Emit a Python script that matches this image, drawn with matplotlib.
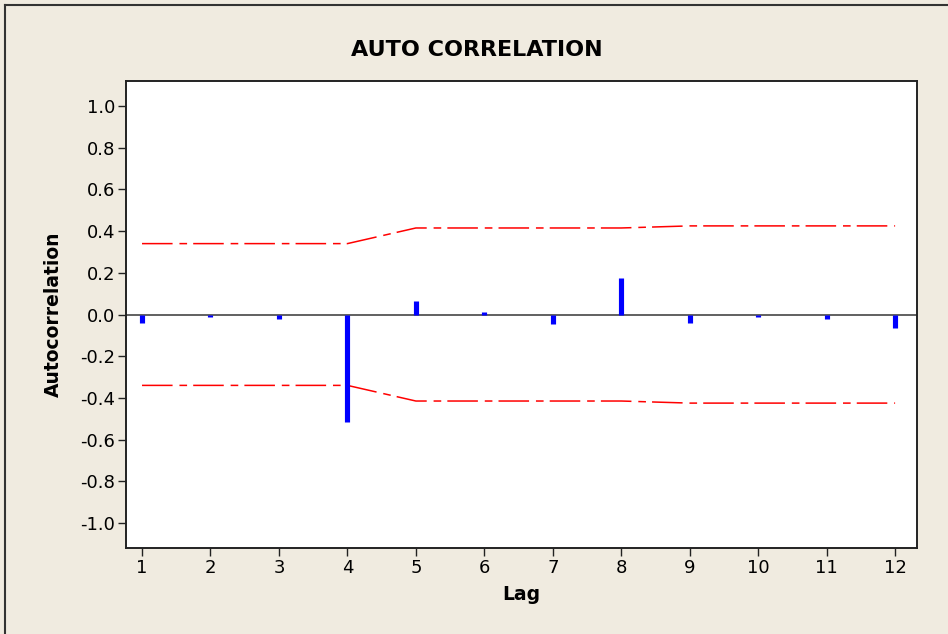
import matplotlib
matplotlib.use("Agg")
import matplotlib.pyplot as plt
from matplotlib.lines import Line2D

lags = [1, 2, 3, 4, 5, 6, 7, 8, 9, 10, 11, 12]
acf = [-0.04, -0.01, -0.02, -0.515, 0.065, 0.01, -0.045, 0.175, -0.04, -0.01, -0.02, -0.063]
upper = [0.34, 0.34, 0.34, 0.34, 0.415, 0.415, 0.415, 0.415, 0.425, 0.425, 0.425, 0.425]
lower = [-u for u in upper]
yticks = [1.0, 0.8, 0.6, 0.4, 0.2, 0.0, -0.2, -0.4, -0.6, -0.8, -1.0]

bg = "#f0ebe0"
fig = plt.figure(figsize=(9.48, 6.34), dpi=100, facecolor=bg)
ax = fig.add_axes([126/948, 1-548/634, (917-126)/948, (548-81)/634])
ax.set_facecolor("white")

ax.axhline(0, color="#606060", lw=1.4, zorder=1)
ax.vlines(lags, 0, acf, color="#0000ff", lw=3.7, zorder=3)
ax.plot(lags, upper, color="#ff0000", lw=1.1, dashes=(20, 4.5, 5, 4), zorder=2)
ax.plot(lags, lower, color="#ff0000", lw=1.1, dashes=(20, 4.5, 5, 4), zorder=2)

ax.set_xlim(0.766, 12.32)
ax.set_ylim(-1.12, 1.12)
ax.set_xticks(lags)
ax.set_xticklabels([str(l) for l in lags])
ax.set_yticks(yticks)
ax.set_yticklabels([f"{v:.1f}" for v in yticks])
ax.tick_params(direction="out", length=6, width=1, labelsize=13, pad=2, color="#222222")
for s in ax.spines.values():
    s.set_color("#222222")
    s.set_linewidth(1.4)

fig.text(477/948, 1-50/634, "AUTO CORRELATION", fontsize=16, fontweight="bold",
         ha="center", va="center")
ax.set_xlabel("Lag", fontsize=13.5, fontweight="bold", labelpad=6)
ax.set_ylabel("Autocorrelation", fontsize=13.5, fontweight="bold", labelpad=12)

# outer window frame
fig.add_artist(Line2D([5/948, 1], [1-5/634, 1-5/634], color="#333333", lw=1.5))
fig.add_artist(Line2D([5/948, 5/948], [0, 1-5/634], color="#333333", lw=1.5))

fig.savefig("out.png", dpi=100, facecolor=bg)
